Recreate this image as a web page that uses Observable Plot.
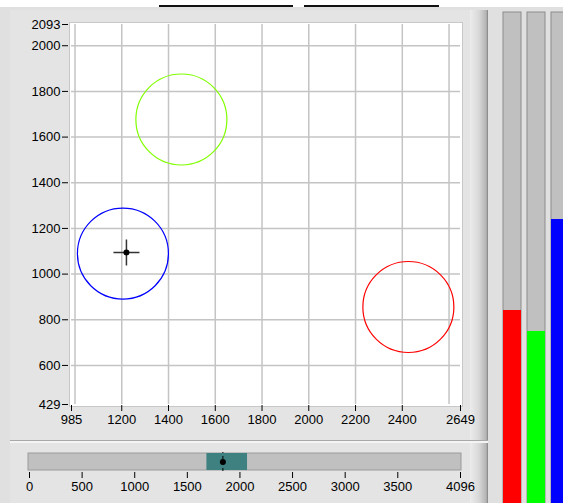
<!DOCTYPE html>
<html>
<head>
<meta charset="utf-8">
<script src="https://cdn.jsdelivr.net/npm/d3@7"></script>
<script src="https://cdn.jsdelivr.net/npm/@observablehq/plot@0.6"></script>
<style>
  html, body { margin: 0; padding: 0; }
  body { width: 563px; height: 503px; overflow: hidden; position: relative; background: #ffffff; font-family: "Liberation Sans", Arial, sans-serif; }
  .abs { position: absolute; }
  #bg { left: 0; top: 7px; width: 563px; height: 496px; background: #e0e0e0; }
  #mainPanel { left: 10px; top: 10px; width: 478px; height: 430px; background: #e4e4e4; }
  #mainEdge { left: 470px; top: 10px; width: 18px; height: 430px; background: linear-gradient(to right, #ececec, #d8d8d8 50%, #b4b4b4 90%, #808080); }
  #divider { left: 10px; top: 440px; width: 478px; height: 1px; background: #a8a8a8; }
  #divider2 { left: 10px; top: 441px; width: 478px; height: 2px; background: #f4f4f4; }
  #sliderPanel { left: 10px; top: 443px; width: 478px; height: 60px; background: #e4e4e4; }
  #sliderEdge { left: 470px; top: 443px; width: 18px; height: 60px; background: linear-gradient(to right, #ececec, #d8d8d8 50%, #b4b4b4 90%, #808080); }
  #line1 { left: 159px; top: 5px; width: 134px; height: 2px; background: #111; }
  #line2 { left: 304px; top: 5px; width: 135px; height: 2px; background: #111; }
  #main, #slider, #bars { position: absolute; }
  #main { left: 0; top: 0; }
  #slider { left: 0; top: 441px; }
  #bars { left: 500px; top: 0; width: 80px; }
  svg { max-width: none !important; }
</style>
</head>
<body>
<div id="bg" class="abs"></div>
<div id="mainPanel" class="abs"></div>
<div id="mainEdge" class="abs"></div>
<div id="sliderPanel" class="abs"></div>
<div id="sliderEdge" class="abs"></div>
<div id="divider" class="abs"></div>
<div id="divider2" class="abs"></div>
<div id="line1" class="abs"></div>
<div id="line2" class="abs"></div>
<div id="main"></div>
<div id="slider"></div>
<div id="bars"></div>
<script>
// ---- data ----
const xDomain = [985, 2649];
const yDomain = [429, 2093];
const xTicks = [985, 1200, 1400, 1600, 1800, 2000, 2200, 2400, 2649];
const yTicks = [429, 600, 800, 1000, 1200, 1400, 1600, 1800, 2000, 2093];
const xGrid = [1000, 1200, 1400, 1600, 1800, 2000, 2200, 2400, 2600];
const yGrid = [600, 800, 1000, 1200, 1400, 1600, 1800, 2000];
const spotNames = ["Spot G", "Spot B", "Spot R"];
const spotX = [1455, 1205, 2426];
const spotY = [1677, 1090, 856];
const cursorX = [1220];
const cursorY = [1095];

const sliderDomain = [0, 4096];
const sliderTicks = [0, 500, 1000, 1500, 2000, 2500, 3000, 3500, 4096];
const sliderLow = [1686];
const sliderHigh = [2072];
const sliderValue = [1838];

const channels = ["R", "G", "B"];
const channelLevels = [1610, 1435, 2369];
const channelMax = 4096;

// ---- tables ----
const spots = spotNames.map((n, i) => ({name: n, x: spotX[i], y: spotY[i]}));
const cursor = cursorX.map((x, i) => ({x, y: cursorY[i]}));
const chan = channels.map((c, i) => ({ch: c, v: channelLevels[i]}));

const crossSymbol = {
  draw(ctx) {
    ctx.moveTo(-13, 0); ctx.lineTo(13, 0);
    ctx.moveTo(0, -13); ctx.lineTo(0, 13);
  }
};

const font = {fontFamily: "'Liberation Sans', Arial, sans-serif", fontSize: "13px", color: "#000", background: "transparent", overflow: "visible", maxWidth: "none"};

const main = Plot.plot({
  width: 470, height: 440,
  marginLeft: 71, marginRight: 10, marginTop: 24, marginBottom: 36,
  style: font,
  x: {domain: xDomain, axis: null},
  y: {domain: yDomain, axis: null},
  color: {domain: spotNames, range: ["#80ff00", "#0000ff", "#ff0000"]},
  marks: [
    Plot.frame({fill: "white", stroke: "#c8c8c8", inset: -2}),
    Plot.gridX(xGrid, {stroke: "#c4c4c4", strokeOpacity: 1, strokeWidth: 1.5}),
    Plot.gridY(yGrid, {stroke: "#c4c4c4", strokeOpacity: 1, strokeWidth: 1.5}),
    Plot.dot(spots, {x: "x", y: "y", r: 45.5, stroke: "name", strokeWidth: 1.2}),
    Plot.dot(cursor, {x: "x", y: "y", symbol: crossSymbol, stroke: "#333", strokeWidth: 1.5, r: 5}),
    Plot.dot(cursor, {x: "x", y: "y", r: 3, fill: "#000"}),
    Plot.axisX({ticks: xTicks, tickFormat: d => String(d), tickSize: 6, tickPadding: 3, dy: 1, label: null, stroke: "#000"}),
    Plot.axisY({ticks: yTicks, tickFormat: d => String(d), tickSize: 6, tickPadding: 2, dx: -3, label: null, stroke: "#000"})
  ]
});
document.getElementById("main").appendChild(main);

const slider = Plot.plot({
  width: 470, height: 62,
  marginLeft: 29, marginRight: 10, marginTop: 12, marginBottom: 33,
  style: font,
  x: {domain: sliderDomain, axis: null},
  y: {domain: [0, 1], axis: null},
  marks: [
    Plot.rect([0], {x1: sliderDomain[0], x2: sliderDomain[1], y1: 0, y2: 1, fill: "#c0c0c0", stroke: "#9a9a9a", insetLeft: -1, insetRight: -1}),
    Plot.rect(sliderLow.map((l, i) => ({l, h: sliderHigh[i]})), {x1: "l", x2: "h", y1: 0, y2: 1, fill: "#3f8080"}),
    Plot.ruleX(sliderValue, {y1: 0, y2: 1, stroke: "#000", strokeDasharray: "3,3", insetTop: 1, insetBottom: 1}),
    Plot.dot(sliderValue.map(v => ({v})), {x: "v", y: 0.5, r: 3, fill: "#000"}),
    Plot.axisX({ticks: sliderTicks, tickFormat: d => String(d), tickSize: 6, tickPadding: 3, dy: 2, label: null, stroke: "#000"})
  ]
});
document.getElementById("slider").appendChild(slider);

const bars = Plot.plot({
  width: 80, height: 503,
  marginLeft: 1.7, marginRight: 9.8, marginTop: 12, marginBottom: 0,
  style: {background: "transparent", maxWidth: "none"},
  x: {domain: channels, paddingInner: 0.26, paddingOuter: 0, axis: null},
  y: {domain: [0, channelMax], axis: null},
  color: {domain: channels, range: ["#ff0000", "#00ff00", "#0000ff"]},
  marks: [
    Plot.barY(chan, {x: "ch", y: channelMax, fill: "#c0c0c0", stroke: "#8c8c8c", strokeWidth: 1}),
    Plot.barY(chan, {x: "ch", y: "v", fill: "ch"})
  ]
});
document.getElementById("bars").appendChild(bars);
</script>
</body>
</html>
